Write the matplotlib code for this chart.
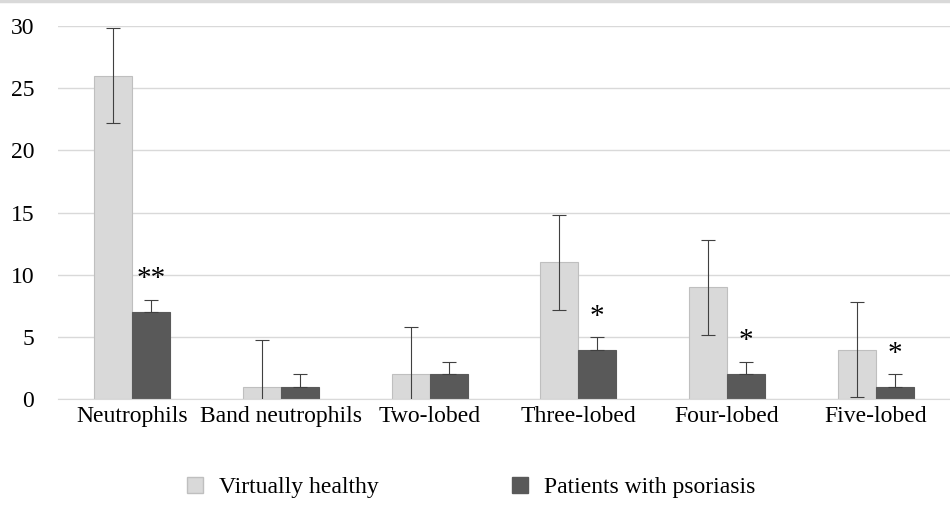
import numpy as np
import matplotlib.pyplot as plt
from matplotlib.lines import Line2D

categories = ['Neutrophils', 'Band neutrophils', 'Two-lobed',
              'Three-lobed', 'Four-lobed', 'Five-lobed']
healthy = [26, 1, 2, 11, 9, 4]
healthy_err = [3.8, 3.8, 3.8, 3.8, 3.8, 3.8]
psoriasis = [7, 1, 2, 4, 2, 1]
psoriasis_err = [1, 1, 1, 1, 1, 1]
marks = ['**', '', '', '*', '*', '*']

plt.rcParams['font.family'] = ['Liberation Serif', 'DejaVu Serif']

fig = plt.figure(figsize=(9.5, 5.08), dpi=100)
ax = fig.add_axes([0.061, 0.214, 0.939, 0.735])

x = np.arange(len(categories))
w = 0.255
ax.bar(x - w / 2, healthy, w, color='#d9d9d9', edgecolor='#bfbfbf',
       linewidth=0.8, label='Virtually healthy', zorder=2)
ax.bar(x + w / 2, psoriasis, w, color='#595959', edgecolor='#595959',
       linewidth=0.8, label='Patients with psoriasis', zorder=2)

ax.errorbar(x - w / 2, healthy, yerr=healthy_err, fmt='none',
            ecolor='#404040', elinewidth=0.8, capsize=5, capthick=0.8, zorder=3)
ax.errorbar(x + w / 2, psoriasis, yerr=[np.zeros(len(x)), psoriasis_err],
            fmt='none', ecolor='#404040', elinewidth=0.8, capsize=5,
            capthick=0.8, zorder=3)

for i, m in enumerate(marks):
    if m:
        ax.text(x[i] + w / 2, psoriasis[i] + psoriasis_err[i] + 0.6, m,
                ha='center', va='bottom', fontsize=21, color='black')

ax.set_xlim(-0.5, len(categories) - 0.5)
ax.set_ylim(0, 30)
ax.set_yticks(range(0, 31, 5))
ax.set_xticks(x)
ax.set_xticklabels(categories)
ax.tick_params(axis='both', length=0, labelsize=17)
ax.tick_params(axis='x', pad=5)
ax.tick_params(axis='y', pad=17)
ax.yaxis.grid(True, color='#d9d9d9', linewidth=1)
ax.set_axisbelow(True)
for s in ['top', 'right', 'left']:
    ax.spines[s].set_visible(False)
ax.spines['bottom'].set_color('#d9d9d9')

handles = [Line2D([], [], marker='s', linestyle='none', markersize=11,
                  markerfacecolor='#d9d9d9', markeredgecolor='#bfbfbf'),
           Line2D([], [], marker='s', linestyle='none', markersize=11,
                  markerfacecolor='#595959', markeredgecolor='#595959')]
fig.legend(handles, ['Virtually healthy', 'Patients with psoriasis'],
           loc='center', bbox_to_anchor=(0.488, 0.04), ncol=2, frameon=False,
           fontsize=17, columnspacing=5.0, handletextpad=0.0)

fig.add_artist(Line2D([0, 1], [0.998, 0.998], color='#d9d9d9', linewidth=2.5))

fig.savefig('out.png', dpi=100)
